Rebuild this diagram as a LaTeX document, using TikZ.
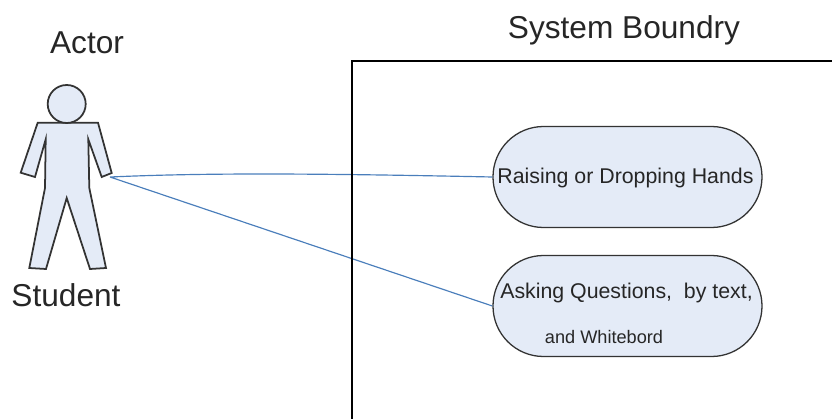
\documentclass[tikz,border=0pt]{standalone}
\usepackage{fontspec}
\setmainfont{Liberation Sans}
\usetikzlibrary{positioning, shapes.misc}
\definecolor{usefill}{HTML}{E4EBF7}
\definecolor{linkblue}{HTML}{4A7EBB}
\definecolor{inkgray}{HTML}{333333}
\tikzset{
x=0.03cm, y=-0.03cm, % one unit is one pixel of the picture
usecase/.style={draw=inkgray, line width=1.1pt, fill=usefill, rounded rectangle, minimum width=8.07cm, minimum height=3.03cm, inner sep=0pt}, % sets the properties for each use case
actorpart/.style={draw=inkgray, line width=1.5pt, fill=usefill, line join=miter}, % the figure on the left
link/.style={draw=linkblue, line width=1pt}, % lines between actor and use cases
bigtext/.style={font=\fontsize{27}{30}\selectfont, text=black!85, inner sep=0pt},
smalltext/.style={font=\fontsize{18.2}{21}\selectfont, text=black!85, inner sep=0pt},
}
\begin{document}
\begin{tikzpicture}
                \useasboundingbox (0,0) rectangle (832,419);
                \coordinate (frameb) at (352,419);
                \coordinate (framec) at (352,61);
                \coordinate (framer) at (832,61);
                \coordinate (hand) at (110,177);
                \node[usecase] (raising) at (627.5,177) {};
                \node[usecase] (asking) at (627.5,306) {};
                \draw[link]
                    (hand) .. controls (200,173) and (300,173) .. (raising.west)
                    (hand) -- (asking.west)
                    ;
                \draw[line width=1.7pt, black] (frameb) -- (framec) -- (framer);
                \draw[actorpart] (37.7,122.7) -- (98,122.7) -- (111.7,173) -- (101.7,177) -- (88.3,139.3)
                    -- (89.3,188) -- (106,268) -- (90,269) -- (66.7,198) -- (46,269) -- (29.3,268)
                    -- (45,188) -- (45.7,139.3) -- (35,177) -- (20.7,172.7) -- cycle;
                \node[actorpart, circle, minimum size=1.14cm, inner sep=0pt] (head) at (66.7,104) {};
                \node[bigtext] (actor) at (87,42.5) {Actor};
                \node[bigtext] (student) at (66,295) {Student};
                \node[bigtext] (boundry) at (624,30) {System Boundry};
                \node[smalltext] (raisingtext) at (625.5,178) {Raising or Dropping Hands};
                \node[smalltext] (askingtext) at (626.5,293) {Asking Questions,\ \ by text,};
                \node[smalltext, font=\fontsize{15.5}{18}\selectfont] (whitetext) at (604,337) {and Whitebord};
                \end{tikzpicture}
\end{document}
